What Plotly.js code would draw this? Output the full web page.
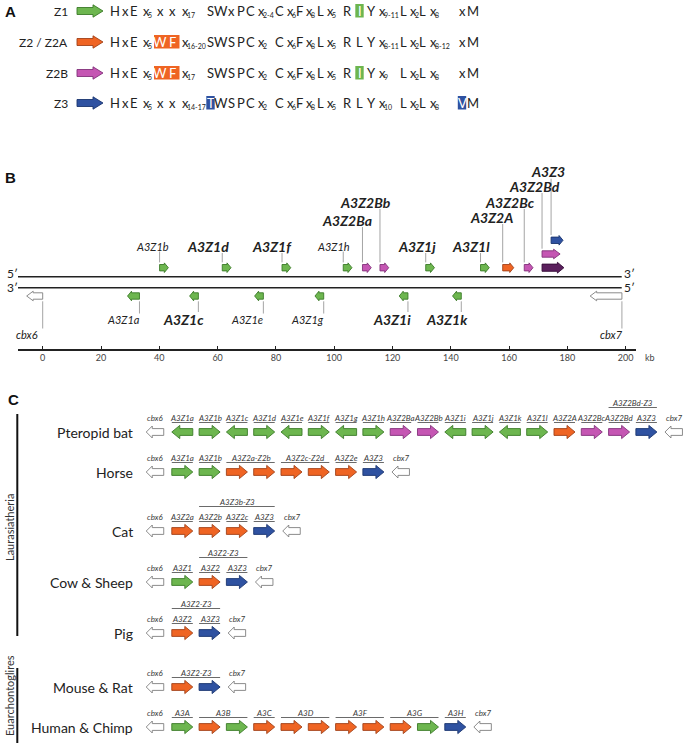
<!DOCTYPE html>
<html><head><meta charset="utf-8">
<script src="https://cdn.plot.ly/plotly-3.0.1.min.js"></script>
<style>html,body{margin:0;padding:0;background:#fff}</style>
</head><body><div id="chart" style="width:685px;height:743px"></div>
<script>
// ================= DATA =================
// ---- Panel A: motif per APOBEC3 Z-domain class ----
const motifNames = ['Z1', 'Z2 / Z2A', 'Z2B', 'Z3'];
const motifTypes = ['Z1', 'Z2', 'Z2B', 'Z3'];
const motifZ1  = ['H','x','E','x_5','x','x','x_17','S','W','x','P','C','x_2-4','C','x_6','F','x_8','L','x_5','R','I','Y','x_9-11','L','x_2','L','x_8','x','M'];
const motifZ2  = ['H','x','E','x_5','W','F','x_16-20','S','W','S','P','C','x_2','C','x_6','F','x_8','L','x_5','R','L','Y','x_8-11','L','x_2','L','x_8-12','x','M'];
const motifZ2B = ['H','x','E','x_5','W','F','x_17','S','W','S','P','C','x_2','C','x_6','F','x_8','L','x_5','R','I','Y','x_9','L','x_2','L','x_8','x','M'];
const motifZ3  = ['H','x','E','x_5','x','x','x_14-17','T','W','S','P','C','x_2','C','x_6','F','x_8','L','x_5','R','L','Y','x_10','L','x_2','L','x_8','V','M'];
// highlighted residues: motif row, first column, last column, class
const hlRow   = [0, 1, 2, 2, 3, 3];
const hlFrom  = [20, 4, 4, 20, 7, 27];
const hlTo    = [20, 5, 5, 20, 7, 27];
const hlClass = ['Z1', 'Z2', 'Z2', 'Z1', 'Z3', 'Z3'];

// ---- Panel B: pteropid bat locus (kb) ----
const bGene   = ['cbx6','A3Z1a','A3Z1b','A3Z1c','A3Z1d','A3Z1e','A3Z1f','A3Z1g','A3Z1h','A3Z2Ba','A3Z2Bb','A3Z1i','A3Z1j','A3Z1k','A3Z1l','A3Z2A','A3Z2Bc','A3Z2Bd-Z3','A3Z2Bd','A3Z3','cbx7'];
const bStartKb = [-5.5, 29.1, 40.1, 50.4, 61.6, 72.7, 82.1, 93.4, 103.1, 109.7, 115.7, 122.3, 131.4, 140.6, 150.2, 157.8, 165.2, 171.3, 171.3, 174.4, 187.8];
const bEndKb   = [0.0, 33.2, 43.1, 53.4, 64.6, 75.7, 85.1, 96.4, 106.1, 112.7, 118.7, 125.3, 134.4, 143.6, 153.2, 161.6, 168.2, 178.8, 177.5, 178.5, 198.7];
const bStrand  = [-1,-1,1,-1,1,-1,1,-1,1,1,1,-1,1,-1,1,1,1,1,1,1,-1];
const bType    = ['cbx','Z1','Z1','Z1','Z1','Z1','Z1','Z1','Z1','Z2B','Z2B','Z1','Z1','Z1','Z1','Z2','Z2B','RT','Z2B','Z3','cbx'];
const bBold    = [0,0,0,1,1,0,1,0,0,1,1,1,1,1,1,1,1,-1,1,1,0];   // -1 = no label
const bTicks   = [0,20,40,60,80,100,120,140,160,180,200];

// ---- Panel C: gene order per species ----
const speciesNames = ['Pteropid bat','Horse','Cat','Cow & Sheep','Pig','Mouse & Rat','Human & Chimp'];
const batGenes   = ['cbx','Z1','Z1','Z1','Z1','Z1','Z1','Z1','Z1','Z2B','Z2B','Z1','Z1','Z1','Z1','Z2','Z2B','Z2B','Z3','cbx'];
const batDir     = [-1,-1,1,-1,1,-1,1,-1,1,1,1,-1,1,-1,1,1,1,1,1,-1];
const batLabels  = ['cbx6','A3Z1a','A3Z1b','A3Z1c','A3Z1d','A3Z1e','A3Z1f','A3Z1g','A3Z1h','A3Z2Ba','A3Z2Bb','A3Z1i','A3Z1j','A3Z1k','A3Z1l','A3Z2A','A3Z2Bc','A3Z2Bd','A3Z3','cbx7'];
const horseGenes = ['cbx','Z1','Z1','Z2','Z2','Z2','Z2','Z2','Z3','cbx'];
const horseDir   = [-1,1,1,1,1,1,1,1,1,-1];
const horseLabels= ['cbx6','A3Z1a','A3Z1b','A3Z2a-Z2b','','A3Z2c-Z2d','','A3Z2e','A3Z3','cbx7'];
const catGenes   = ['cbx','Z2','Z2','Z2','Z3','cbx'];
const catDir     = [-1,1,1,1,1,-1];
const catLabels  = ['cbx6','A3Z2a','A3Z2b','A3Z2c','A3Z3','cbx7'];
const cowGenes   = ['cbx','Z1','Z2','Z3','cbx'];
const cowDir     = [-1,1,1,1,-1];
const cowLabels  = ['cbx6','A3Z1','A3Z2','A3Z3','cbx7'];
const pigGenes   = ['cbx','Z2','Z3','cbx'];
const pigDir     = [-1,1,1,-1];
const pigLabels  = ['cbx6','A3Z2','A3Z3','cbx7'];
const mouseGenes = ['cbx','Z2','Z3','cbx'];
const mouseDir   = [-1,1,1,-1];
const mouseLabels= ['cbx6','A3Z2-Z3','','cbx7'];
const humanGenes = ['cbx','Z1','Z2','Z1','Z2','Z2','Z2','Z2','Z2','Z2','Z1','Z3','cbx'];
const humanDir   = [-1,1,1,1,1,1,1,1,1,1,1,1,-1];
const humanLabels= ['cbx6','A3A','A3B','','A3C','A3D','','A3F','','A3G','','A3H','cbx7'];
// read-through transcripts drawn as brackets
const bracketSpecies = [0, 2, 3, 4];
const bracketText    = ['A3Z2Bd-Z3', 'A3Z3b-Z3', 'A3Z2-Z3', 'A3Z2-Z3'];
const bracketFrom    = [17, 2, 2, 1];
const bracketTo      = [18, 4, 3, 2];
const groupNames = ['Laurasiatheria', 'Euarchontoglires'];

// ================= STYLE / LAYOUT =================
const W = 685, H = 743;
const FONT = 'Lato, "Open Sans", "DejaVu Sans", sans-serif';
const TXT = '#222222';
const COLORS = {Z1:['#6db64f','#3b7a28'], Z2:['#ef6423','#a0421a'], Z2B:['#c556b3','#82327a'],
                Z3:['#2f52a1','#1b356f'], RT:['#5b1f5d','#360c38'], cbx:['#ffffff','#7f7f7f']};

// narrow font for the small gene labels of panel C (if installed)
function hasFont(name) {
  const c = document.createElement('canvas').getContext('2d');
  const s = 'A3Z2Bd-Z3 mmmwwwiii';
  c.font = '20px monospace'; const w1 = c.measureText(s).width;
  c.font = '20px serif'; const w2 = c.measureText(s).width;
  c.font = '20px "' + name + '", monospace'; const w3 = c.measureText(s).width;
  c.font = '20px "' + name + '", serif'; const w4 = c.measureText(s).width;
  return w3 !== w1 || w4 !== w2;
}
let SMALL_FONT = FONT, SMALL_SIZE = 8;
if (hasFont('Liberation Sans Narrow')) { SMALL_FONT = '"Liberation Sans Narrow", ' + FONT; SMALL_SIZE = 8.8; }

const speciesGenes  = [batGenes, horseGenes, catGenes, cowGenes, pigGenes, mouseGenes, humanGenes];
const speciesDir    = [batDir, horseDir, catDir, cowDir, pigDir, mouseDir, humanDir];
const speciesLabels = [batLabels, horseLabels, catLabels, cowLabels, pigLabels, mouseLabels, humanLabels];

// layout constants (pixels)
const rowYA = [11, 42, 73, 103];
const colXA = [115,125,134,141,160,172,179.5,210.5,220.5,231,241,250,256,279.5,284.5,299,304,320,325,347,359.5,371,377,403,407.5,422.5,427.5,462,472.5];
const rowYC = [432, 472, 531, 582, 633, 687, 727];
const slotX0 = 155, slotW = 27.3;
const kbPx = 2.915, kb0Px = 42.7;
const bLabelY  = [334,319,246,319,246,319,246,319,246,220,202,319,246,319,246,217,202,null,186,171.7,334];
const bLabelDx = [-16,-16,-7,-15.3,-14,-16.3,-10,-16.6,-10,-15,-14,-16.3,-8.3,-14.7,-9.7,-11.5,-14,0,-8,-3.5,-10];
const bStack   = [0,0,0,0,0,0,0,0,0,0,0,0,0,0,0,0,0,0,1,2,0];

// ================= BUILD =================
const groups = {};
function arrow(xa, cls, x0, x1, dir, yc, hb, hh, hl) {
  const key = xa + '|' + cls;
  if (!groups[key]) groups[key] = {xa: xa, cls: cls, x: [], y: []};
  const g = groups[key];
  let px;
  if (dir > 0) px = [x0, x1 - hl, x1 - hl, x1, x1 - hl, x1 - hl, x0, x0];
  else px = [x1, x0 + hl, x0 + hl, x0, x0 + hl, x0 + hl, x1, x1];
  const py = [yc - hb, yc - hb, yc - hh, yc, yc + hh, yc + hb, yc + hb, yc - hb];
  if (g.x.length) { g.x.push(null); g.y.push(null); }
  g.x.push(...px); g.y.push(...py);
}
const shapes = [], annotations = [];
function txt(xref, x, y, text, size, opts) {
  opts = opts || {};
  annotations.push(Object.assign({xref: xref, yref: 'y2', x: x, y: y, text: text, showarrow: false,
    xanchor: 'center', yanchor: 'middle', font: {family: FONT, size: size, color: TXT}}, opts));
}
function line(xref, x0, y0, x1, y1, color, width) {
  shapes.push({type: 'line', xref: xref, yref: 'y2', x0: x0, y0: y0, x1: x1, y1: y1, line: {color: color, width: width}});
}

// ---- Panel letters ----
[['A', 10, 11], ['B', 10, 177], ['C', 13, 399]].forEach(p => txt('x3', p[1], p[2], '<b>' + p[0] + '</b>', 15,
  {font: {family: 'Liberation Sans, Arial, sans-serif', size: 15, color: '#111'}}));

// ---- Panel A ----
const motifs = [motifZ1, motifZ2, motifZ2B, motifZ3];
const MS = 13;
motifs.forEach((m, r) => {
  const y = rowYA[r];
  txt('x3', 70, y, motifNames[r], 12, {xanchor: 'right'});
  arrow('x3', motifTypes[r], 77, 103, 1, y, 3.5, 6.2, 10);
  m.forEach((tok, c) => {
    let hi = false;
    hlRow.forEach((hr, k) => { if (hr === r && c >= hlFrom[k] && c <= hlTo[k]) hi = true; });
    const color = hi ? '#ffffff' : TXT;
    if (tok.indexOf('_') >= 0) {
      const parts = tok.split('_');
      txt('x3', colXA[c], y, parts[0], MS, {xanchor: 'left', font: {family: FONT, size: MS, color: color}});
      txt('x3', colXA[c] + 6.1, y, parts[1], 7, {xanchor: 'left', yshift: -4, borderpad: 0, font: {family: FONT, size: 7, color: color}});
    } else {
      txt('x3', colXA[c], y, tok, MS, {font: {family: FONT, size: MS, color: color}});
    }
  });
});
hlRow.forEach((r, k) => {
  const single = hlFrom[k] === hlTo[k];
  shapes.push({type: 'rect', xref: 'x3', yref: 'y2', layer: 'below',
    x0: colXA[hlFrom[k]] - (single ? 4.2 : 6), x1: colXA[hlTo[k]] + (single ? 4.2 : 7.5),
    y0: rowYA[r] - 7, y1: rowYA[r] + 6.5, fillcolor: COLORS[hlClass[k]][0], line: {width: 0}});
});

// ---- Panel B ----
line('x3', 18, 276.7, 621.7, 276.7, '#222', 1.4);
line('x3', 18, 287.7, 621.7, 287.7, '#222', 1.4);
txt('x3', 12, 273.5, '5\u2032', 12);
txt('x3', 12, 287.5, '3\u2032', 12);
txt('x3', 629, 273.5, '3\u2032', 12);
txt('x3', 629, 287.5, '5\u2032', 12);
txt('x3', 650, 357, 'kb', 9, {font: {family: FONT, size: 9, color: '#444'}});
bGene.forEach((g, i) => {
  const x0 = bStartKb[i], x1 = bEndKb[i], dir = bStrand[i];
  const yc = dir > 0 ? 267.7 - bStack[i] * 13.7 : 296;
  const lenPx = (x1 - x0) * kbPx;
  const hb = bType[i] === 'RT' ? 3.6 : 3.2, hh = bType[i] === 'RT' ? 5.4 : 4.8;
  const hl = (lenPx > 12 ? 6.5 : 4) / kbPx;
  arrow('x', bType[i], x0, x1, dir, yc, hb, hh, hl);
  if (bBold[i] < 0) return;
  const lx = dir > 0 ? x0 : x1;
  const ly = bLabelY[i];
  const bold = bBold[i] === 1;
  const half = bold ? 7 : 5.5;
  const label = bold ? '<b><i>' + g + '</i></b>' : '<i>' + g + '</i>';
  txt('x', lx, ly, label, bold ? 14 : 11, {xshift: bLabelDx[i], font: {family: FONT, size: bold ? 14 : 11, color: TXT}});
  if (dir > 0) line('x', lx, ly + half, lx, yc - hh - 0.5, '#9a9a9a', 0.9);
  else line('x', lx, yc + hh + 0.5, lx, ly - half, '#9a9a9a', 0.9);
});

// ---- Panel C ----
const smallFont = {family: SMALL_FONT, size: SMALL_SIZE, color: '#3a3a3a'};
speciesNames.forEach((sp, s) => {
  const y = rowYC[s];
  txt('x3', 135, y, sp, 14, {xanchor: 'right'});
  const genes = speciesGenes[s], dirs = speciesDir[s], labels = speciesLabels[s];
  genes.forEach((cls, i) => {
    if (cls === 'cbx') arrow('x2', cls, i - 0.32, i + 0.32, dirs[i], y, 3.4, 6.0, 6 / slotW);
    else arrow('x2', cls, i - 0.385, i + 0.385, dirs[i], y, 3.4, 6.6, 8 / slotW);
  });
  let i = 0;
  while (i < labels.length) {
    const lab = labels[i];
    let j = i;
    while (j + 1 < labels.length && labels[j + 1] === '') j++;
    if (lab) {
      txt('x2', (i + j) / 2, y - 14.5, '<i>' + lab + '</i>', SMALL_SIZE, {font: smallFont});
      if (lab.indexOf('cbx') !== 0) line('x2', i - 0.385, y - 9.5, j + 0.385, y - 9.5, '#6a6a6a', 1);
    }
    i = j + 1;
  }
});
bracketSpecies.forEach((s, k) => {
  const y = rowYC[s];
  txt('x2', (bracketFrom[k] + bracketTo[k]) / 2, y - 29.5, '<i>' + bracketText[k] + '</i>', SMALL_SIZE, {font: smallFont});
  line('x2', bracketFrom[k] - 0.385, y - 24.5, bracketTo[k] + 0.385, y - 24.5, '#6a6a6a', 1);
});
// taxonomic groups
line('x3', 17.3, 414, 17.3, 636, '#111', 2);
line('x3', 17.3, 668, 17.3, 743, '#111', 2);
txt('x3', 9, 528, groupNames[0], 11, {textangle: -90, font: {family: FONT, size: 11, color: '#333'}});
txt('x3', 9, 696, groupNames[1], 11, {textangle: -90, font: {family: FONT, size: 11, color: '#333'}});

// ---- traces ----
const traces = [{type: 'scatter', x: [], y: [], xaxis: 'x', yaxis: 'y', showlegend: false, hoverinfo: 'skip'}];
Object.keys(groups).forEach(k => {
  const g = groups[k];
  traces.push({type: 'scatter', mode: 'lines', x: g.x, y: g.y, xaxis: g.xa, yaxis: 'y2',
    fill: 'toself', fillcolor: COLORS[g.cls][0], line: {color: COLORS[g.cls][1], width: 0.9},
    hoverinfo: 'skip', showlegend: false});
});

// kb axis mapping: 0 kb -> kb0Px, 200 kb -> kb0Px + 200*kbPx, domain 18..636 px
const dom0 = 18, dom1 = 636;
const r0 = (dom0 - kb0Px) / kbPx, r1 = (dom1 - kb0Px) / kbPx;

const layout = {
  width: W, height: H, autosize: false,
  margin: {l: 0, r: 0, t: 0, b: 0, pad: 0},
  paper_bgcolor: '#ffffff', plot_bgcolor: 'rgba(0,0,0,0)',
  showlegend: false,
  font: {family: FONT, color: TXT},
  xaxis: {domain: [dom0 / W, dom1 / W], range: [r0, r1], anchor: 'y', showline: true, linecolor: '#222', linewidth: 1.5,
          ticks: 'inside', ticklen: 3, tickwidth: 1, tickcolor: '#222', tickvals: bTicks, ticktext: bTicks.map(String),
          tickfont: {family: FONT, size: 9, color: '#444'}, showgrid: false, zeroline: false, fixedrange: true},
  yaxis: {domain: [1 - 349 / H, 1 - 300 / H], range: [0, 1], visible: false, fixedrange: true},
  xaxis2: {domain: [0, 1], range: [-slotX0 / slotW, (W - slotX0) / slotW], anchor: 'y2', visible: false, fixedrange: true},
  yaxis2: {domain: [0, 1], range: [H, 0], anchor: 'x2', visible: false, fixedrange: true},
  xaxis3: {domain: [0, 1], range: [0, W], anchor: 'y2', visible: false, fixedrange: true},
  shapes: shapes,
  annotations: annotations
};
Plotly.newPlot('chart', traces, layout, {displayModeBar: false, staticPlot: true});
</script>
</body></html>
